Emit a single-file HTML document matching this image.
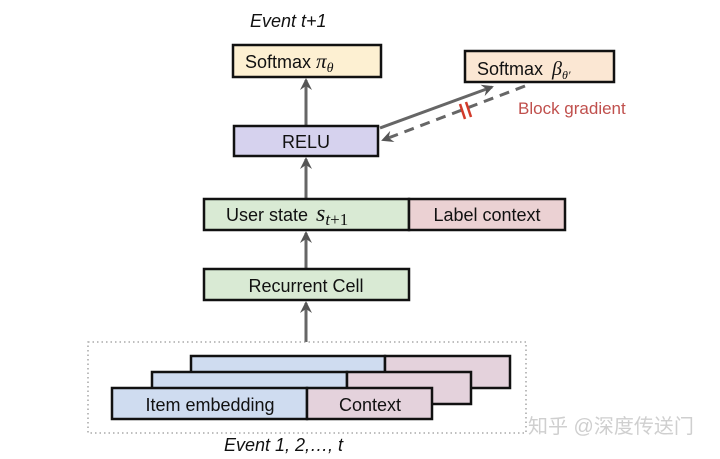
<!DOCTYPE html>
<html><head><meta charset="utf-8"><style>
html,body{margin:0;padding:0;background:#fff;}
svg{display:block;}
text{font-family:"Liberation Sans",sans-serif;fill:#111;}
</style></head><body>
<svg width="720" height="459" viewBox="0 0 720 459" xmlns="http://www.w3.org/2000/svg">
<defs>
<marker id="ah" markerWidth="12" markerHeight="12" refX="10" refY="6" orient="auto" markerUnits="userSpaceOnUse">
<path d="M0,0 L12,6 L0,12 L4,6 Z" fill="#555"/>
</marker>
</defs>
<rect width="720" height="459" fill="#fff"/>
<text x="250" y="27" font-size="18" font-style="italic">Event t+1</text>

<g stroke="#666" stroke-width="3" fill="none">
<line x1="306" y1="342" x2="306" y2="303" marker-end="url(#ah)"/>
<line x1="306" y1="268" x2="306" y2="233" marker-end="url(#ah)"/>
<line x1="306" y1="198" x2="306" y2="159" marker-end="url(#ah)"/>
<line x1="306" y1="125" x2="306" y2="80" marker-end="url(#ah)"/>
<line x1="380" y1="128" x2="492" y2="87" marker-end="url(#ah)"/>
<line x1="525" y1="86" x2="383" y2="140" stroke-dasharray="10,7" marker-end="url(#ah)"/>
</g>
<g stroke="#d23a2a" stroke-width="2.5">
<line x1="460" y1="104" x2="465" y2="119"/>
<line x1="466" y1="102" x2="471" y2="117"/>
</g>
<text x="518" y="114" font-size="17" style="fill:#c0504d">Block gradient</text>

<g stroke="#111" stroke-width="2.5">
<rect x="233" y="45" width="148" height="32" fill="#fdf0d2"/>
<rect x="465" y="51" width="149" height="31" fill="#fbe7d3"/>
<rect x="234" y="126" width="144" height="30" fill="#d6d2ee"/>
<rect x="204" y="199" width="205" height="31" fill="#d9ead4"/>
<rect x="409" y="199" width="156" height="31" fill="#ebd1d3"/>
<rect x="204" y="269" width="205" height="31" fill="#d9ead4"/>
</g>
<text x="245" y="68" font-size="18">Softmax <tspan font-family="Liberation Serif" font-style="italic" font-size="21">π</tspan><tspan font-family="Liberation Serif" font-style="italic" font-size="14" dy="4">θ</tspan></text>
<text x="477" y="75" font-size="18">Softmax <tspan font-family="Liberation Serif" font-style="italic" font-size="20" dx="4">β</tspan><tspan font-family="Liberation Serif" font-style="italic" font-size="12" dy="4">θ′</tspan></text>
<text x="306" y="148" font-size="18" text-anchor="middle">RELU</text>
<text x="226" y="221" font-size="18">User state <tspan font-family="Liberation Serif" font-style="italic" font-size="24" dx="3">s</tspan><tspan font-family="Liberation Serif" font-style="italic" font-size="17" dy="4">t</tspan><tspan font-family="Liberation Serif" font-size="17">+1</tspan></text>
<text x="487" y="221" font-size="18" text-anchor="middle">Label context</text>
<text x="306" y="292" font-size="18" text-anchor="middle">Recurrent Cell</text>

<rect x="88" y="342" width="438" height="91" fill="none" stroke="#999" stroke-width="1.3" stroke-dasharray="1.5,3"/>

<g stroke="#111" stroke-width="2.5">
<rect x="191" y="356" width="194" height="32" fill="#cfdcf0"/>
<rect x="385" y="356" width="125" height="32" fill="#e4d2dc"/>
<rect x="152" y="372" width="195" height="32" fill="#cfdcf0"/>
<rect x="347" y="372" width="124" height="32" fill="#e4d2dc"/>
<rect x="112" y="388" width="195" height="31" fill="#cfdcf0"/>
<rect x="307" y="388" width="125" height="31" fill="#e4d2dc"/>
</g>
<text x="210" y="411" font-size="18" text-anchor="middle">Item embedding</text>
<text x="370" y="411" font-size="18" text-anchor="middle">Context</text>
<text x="224" y="451" font-size="18" font-style="italic">Event 1, 2,…, t</text>

<text x="528" y="433" font-size="20" style="fill:#cfcfcf;font-family:'Liberation Sans','Noto Sans CJK SC',sans-serif">知乎 @深度传送门</text>
</svg>
</body></html>
